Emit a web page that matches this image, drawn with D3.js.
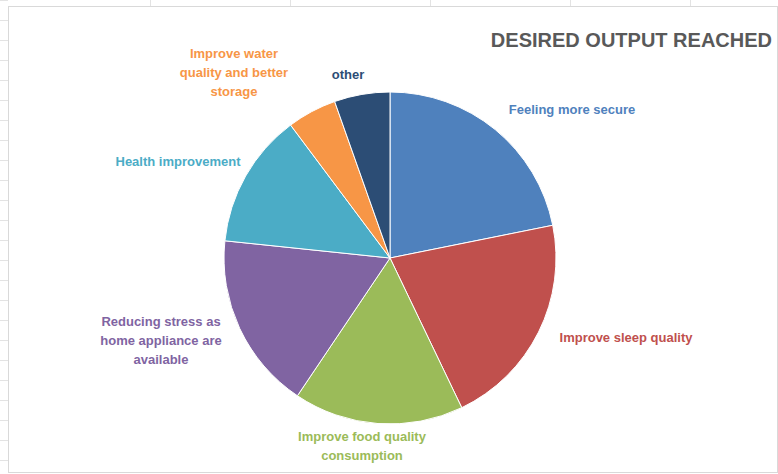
<!DOCTYPE html>
<html>
<head>
<meta charset="UTF-8">
<script src="https://d3js.org/d3.v7.min.js"></script>
<style>
  body { margin: 0; background: #fff; }
  svg { font-family: "Liberation Sans", Arial, sans-serif; }
</style>
</head>
<body>
<svg id="chart" width="778" height="474"></svg>
<script>
  // slice data, clockwise from 12 o'clock
  const categories = ["Feeling more secure", "Improve sleep quality", "Improve food quality consumption",
    "Reducing stress as home appliance are available", "Health improvement",
    "Improve water quality and better storage", "other"];
  const values = [21.8, 21.0, 16.5, 17.2, 13.1, 4.8, 5.4];
  const colors = ["#4f81bd", "#c0504d", "#9bbb59", "#8064a2", "#4bacc6", "#f79646", "#2c4d75"];
  const labelLines = [
    ["Feeling more secure"], ["Improve sleep quality"], ["Improve food quality", "consumption"],
    ["Reducing stress as", "home appliance are", "available"], ["Health improvement"],
    ["Improve water", "quality and better", "storage"], ["other"]];
  const labelPos = [[572, 114], [626, 342], [362, 441], [161, 326], [178, 166], [234, 58], [348, 79]];

  const svg = d3.select("#chart");

  // faint spreadsheet grid
  const grid = svg.append("g").attr("stroke", "#e3e3e3").attr("stroke-width", 1);
  d3.range(0, 474, 20).forEach(y => grid.append("line").attr("x1", 0).attr("x2", 8).attr("y1", y + .5).attr("y2", y + .5));
  [150, 290, 430, 570, 690].forEach(x => grid.append("line").attr("x1", x + .5).attr("x2", x + .5).attr("y1", 0).attr("y2", 6));
  svg.append("rect").attr("x", 8.5).attr("y", 6.5).attr("width", 769).attr("height", 466)
    .attr("fill", "#fff").attr("stroke", "#d9d9d9");

  const cx = 390, cy = 258, r = 166;
  const pie = d3.pie().sort(null).value(d => d);
  const arc = d3.arc().innerRadius(0).outerRadius(r);

  svg.append("g").attr("transform", `translate(${cx},${cy})`)
    .selectAll("path").data(pie(values)).join("path")
    .attr("d", arc).attr("fill", (d, i) => colors[i])
    .attr("stroke", "#fff").attr("stroke-width", 1);

  labelLines.forEach((lines, i) => {
    const t = svg.append("text").attr("text-anchor", "middle")
      .attr("font-size", 13).attr("font-weight", "bold").attr("fill", colors[i]);
    lines.forEach((l, j) => t.append("tspan").attr("x", labelPos[i][0]).attr("y", labelPos[i][1] + j * 19).text(l));
  });

  svg.append("text").attr("x", 772).attr("y", 47).attr("text-anchor", "end")
    .attr("font-size", 20).attr("font-weight", "bold").attr("fill", "#595959")
    .text("DESIRED OUTPUT REACHED");
</script>
</body>
</html>
